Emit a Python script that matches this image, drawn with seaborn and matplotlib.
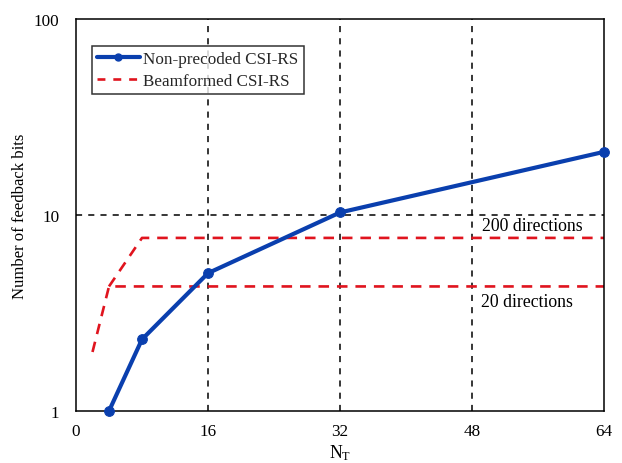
import matplotlib
matplotlib.use("Agg")
import matplotlib.pyplot as plt
import seaborn as sns
import pandas as pd
from matplotlib.lines import Line2D

# Data
nt_nonprecoded = [4, 8, 16, 32, 64]
bits_nonprecoded = [1.0, 2.32, 5.05, 10.3, 21.0]

nt_bf20 = [2, 4, 64]
bits_bf20 = [2.0, 4.32, 4.32]

nt_bf200 = [4, 8, 64]
bits_bf200 = [4.32, 7.64, 7.64]

grid_x = [16, 32, 48]
grid_y = [10]

x_ticks = [0, 16, 32, 48, 64]
y_ticks = [1, 10, 100]

sns.set_theme(style="white")
plt.rcParams['font.family'] = ['Liberation Serif', 'DejaVu Serif']
plt.rcParams['mathtext.fontset'] = 'custom'
plt.rcParams['mathtext.rm'] = 'Liberation Serif'
plt.rcParams['mathtext.it'] = 'Liberation Serif:italic'

FS = 12.3

fig = plt.figure(figsize=(6.22, 4.64), dpi=100)
ax = fig.add_axes([76/622, 52/464, 528/622, 392/464])

for gx in grid_x:
    ax.axvline(gx, color='black', linestyle=(0, (4, 4)), linewidth=1.1, zorder=1)
for gy in grid_y:
    ax.axhline(gy, color='black', linestyle=(0, (4, 4)), linewidth=1.1, zorder=1)

red = '#e0141e'
blue = '#0a3fae'

df20 = pd.DataFrame({'NT': nt_bf20, 'bits': bits_bf20})
df200 = pd.DataFrame({'NT': nt_bf200, 'bits': bits_bf200})
dfnp = pd.DataFrame({'NT': nt_nonprecoded, 'bits': bits_nonprecoded})

sns.lineplot(data=df20, x='NT', y='bits', ax=ax, color=red, linewidth=1.9,
             linestyle=(0, (4, 3)), zorder=2)
sns.lineplot(data=df200, x='NT', y='bits', ax=ax, color=red, linewidth=1.9,
             linestyle=(0, (4, 3)), zorder=2)
sns.lineplot(data=dfnp, x='NT', y='bits', ax=ax, color=blue, linewidth=3,
             marker='o', markersize=7, markeredgecolor=blue, zorder=3,
             clip_on=False)

ax.set_yscale('log')
ax.set_xlim(0, 64)
ax.set_ylim(1, 100)
ax.set_xticks(x_ticks)
ax.set_xticklabels([str(t) for t in x_ticks])
ax.set_yticks(y_ticks)
ax.set_yticklabels([str(t) for t in y_ticks])
ax.minorticks_off()
ax.tick_params(axis='both', length=0, labelsize=FS, colors='black')
ax.tick_params(axis='x', pad=9)
ax.tick_params(axis='y', pad=12)

for s in ax.spines.values():
    s.set_color('black')
    s.set_linewidth(1.1)

ax.set_xlabel(r'N$_\mathrm{T}$', fontsize=FS + 0.5, color='black', labelpad=2)
ax.set_ylabel('Number of feedback bits', fontsize=FS - 0.3, color='black', labelpad=4)

ax.text(49.2, 8.89, '200 directions', ha='left', va='center', fontsize=FS + 0.5, color='black')
ax.text(49.1, 3.64, '20 directions', ha='left', va='center', fontsize=FS + 0.5, color='black')

handles = [
    Line2D([], [], color=blue, linewidth=3, marker='o', markersize=5),
    Line2D([], [], color=red, linewidth=1.9, linestyle=(0, (3, 3))),
]
leg = ax.legend(handles, ['Non-precoded CSI-RS', 'Beamformed CSI-RS'],
                loc='upper left', bbox_to_anchor=(16/528, (412-47)/392), fontsize=FS,
                frameon=True, fancybox=False, borderaxespad=0, handlelength=2.5,
                handletextpad=0.2, borderpad=0.3, labelspacing=0.32)
leg.get_frame().set_edgecolor('black')
leg.get_frame().set_linewidth(1.1)

fig.savefig('out.png', dpi=100)
